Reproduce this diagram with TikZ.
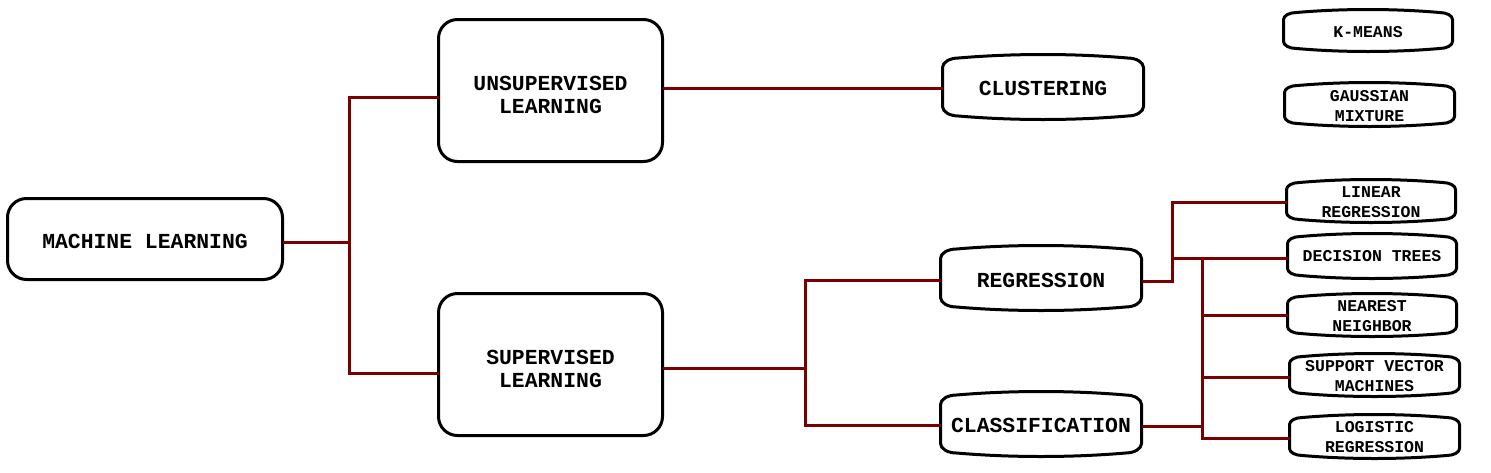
\documentclass[tikz,border=0pt]{standalone}
\usepackage{fontspec}
\setmonofont{Liberation Mono}
\usetikzlibrary{calc}
\definecolor{linkred}{RGB}{122,0,0}
% text lowered by #1 from node centre, zero size box
\newcommand{\boxtext}[2][11.85pt]{\raisebox{-#1}[0pt][0pt]{\begin{tabular}{@{}c@{}}#2\end{tabular}}}
% soft box outline drawn round a node: #1 node, #2 side inset, #3 corner width, #4 sag
\newcommand{\softbox}[4]{%
 \draw[boxline] ($(#1.north west)+(0,#2)$)
   .. controls ($(#1.north west)+(0,{#4+0.45*(#2-#4)})$) and ($(#1.north west)+({0.45*#3},#4)$) .. ($(#1.north west)+(#3,#4)$)
   .. controls ($(#1.north west)!0.35!(#1.north east)+(0,{-#4/3})$) and ($(#1.north west)!0.65!(#1.north east)+(0,{-#4/3})$) .. ($(#1.north east)+(-#3,#4)$)
   .. controls ($(#1.north east)+({-0.45*#3},#4)$) and ($(#1.north east)+(0,{#4+0.45*(#2-#4)})$) .. ($(#1.north east)+(0,#2)$)
   -- ($(#1.south east)+(0,-#2)$)
   .. controls ($(#1.south east)+(0,{-#4-0.45*(#2-#4)})$) and ($(#1.south east)+({-0.45*#3},-#4)$) .. ($(#1.south east)+(-#3,-#4)$)
   .. controls ($(#1.south west)!0.65!(#1.south east)+(0,{#4/3})$) and ($(#1.south west)!0.35!(#1.south east)+(0,{#4/3})$) .. ($(#1.south west)+(#3,-#4)$)
   .. controls ($(#1.south west)+({0.45*#3},-#4)$) and ($(#1.south west)+(0,{-#4-0.45*(#2-#4)})$) .. ($(#1.south west)+(0,-#2)$)
   -- cycle;}
\begin{document}
\begin{tikzpicture}[x=1pt,y=-1pt,
  boxline/.style={draw=black,line width=3pt,line join=round},
  box/.style={align=center,inner sep=0pt,outer sep=0pt,
    font=\ttfamily\bfseries\fontsize{21.4}{23}\selectfont},
  bigbox/.style={box,boxline,rounded corners=19pt},
  midbox/.style={box},
  smallbox/.style={box,font=\ttfamily\bfseries\fontsize{16.5}{20}\selectfont},
  conn/.style={draw=linkred,line width=3pt}]
\useasboundingbox (0,0) rectangle (1491,472);
% main nodes
\node[bigbox,minimum width=275pt,minimum height=81pt] (ml) at (145,239) {\boxtext[10.35pt]{MACHINE LEARNING}};
\node[bigbox,minimum width=224pt,minimum height=142pt] (unsup) at (550.5,90.5) {\boxtext{UNSUPERVISED\\LEARNING}};
\node[bigbox,minimum width=224pt,minimum height=142pt] (sup) at (550.5,364.5) {\boxtext{SUPERVISED\\LEARNING}};
\node[midbox,minimum width=201pt,minimum height=65pt] (clu) at (1043,87) {\boxtext[9pt]{CLUSTERING}};
\node[midbox,minimum width=201pt,minimum height=65pt] (reg) at (1041,278) {\boxtext[9.6pt]{REGRESSION}};
\node[midbox,minimum width=201pt,minimum height=65pt] (cls) at (1041,424) {\boxtext[9pt]{CLASSIFICATION}};
% small nodes
\node[smallbox,minimum width=169pt,minimum height=42pt] (km) at (1368,30.5) {\boxtext[7.3pt]{K-MEANS}};
\node[smallbox,minimum width=170pt,minimum height=44pt] (gm) at (1369.5,104.5) {\boxtext[7.3pt]{GAUSSIAN\\MIXTURE}};
\node[smallbox,minimum width=169pt,minimum height=43pt] (lin) at (1371,201) {\boxtext[7pt]{LINEAR\\REGRESSION}};
\node[smallbox,minimum width=169pt,minimum height=45pt] (dt) at (1372,256) {\boxtext[6pt]{DECISION TREES}};
\node[smallbox,minimum width=169pt,minimum height=43pt] (nn) at (1372,315) {\boxtext[6.5pt]{NEAREST\\NEIGHBOR}};
\node[smallbox,minimum width=170pt,minimum height=43pt] (svm) at (1374.5,375) {\boxtext[6.5pt]{SUPPORT VECTOR\\MACHINES}};
\node[smallbox,minimum width=170pt,minimum height=44pt] (lr) at (1374.5,436.5) {\boxtext[6.5pt]{LOGISTIC\\REGRESSION}};
% outlines
\softbox{clu}{13}{16}{3.5}
\softbox{reg}{13}{16}{3.5}
\softbox{cls}{13}{16}{3.5}
\foreach \n in {km,gm,lin,dt,nn,svm,lr}{\softbox{\n}{10}{13}{3}}
% junction coordinates
\coordinate (a1) at (349,242);
\coordinate (a2) at (349,97);
\coordinate (a3) at (349,373);
\coordinate (b1) at (700,88);
\coordinate (c1) at (805,368);
\coordinate (c2) at (805,280);
\coordinate (c3) at (805,425);
\coordinate (d1) at (1172,281);
\coordinate (d2) at (1172,202);
\coordinate (d3) at (1172,258);
\coordinate (e1) at (1202,258);
\coordinate (e2) at (1202,315);
\coordinate (e3) at (1202,377);
\coordinate (e4) at (1202,438);
\coordinate (e5) at (1202,426);
% connectors
\draw[conn] (ml.east |- a1) -- (a1);
\draw[conn] (unsup.west |- a2) -- (a2) -- (a3) -- (sup.west |- a3);
\draw[conn] (unsup.east |- b1) -- (clu.west |- b1);
\draw[conn] (sup.east |- c1) -- (c1);
\draw[conn] (reg.west |- c2) -- (c2) -- (c3) -- (cls.west |- c3);
\draw[conn] (reg.east |- d1) -- (d1) -- (d2) -- (lin.west |- d2);
\draw[conn] (d3) -- (dt.west |- d3);
\draw[conn] (e1) -- (e4) -- (lr.west |- e4);
\draw[conn] (e2) -- (nn.west |- e2);
\draw[conn] (e3) -- (svm.west |- e3);
\draw[conn] (cls.east |- e5) -- (e5);
\end{tikzpicture}
\end{document}
